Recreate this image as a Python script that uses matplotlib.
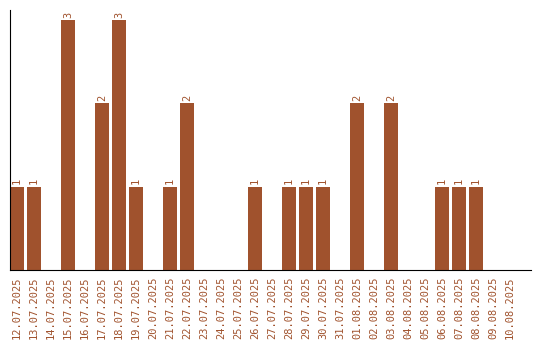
import matplotlib
matplotlib.use('Agg')
import matplotlib.pyplot as plt
import numpy as np

# dates and counts
dates = ['12.07.2025', '13.07.2025', '14.07.2025', '15.07.2025', '16.07.2025',
         '17.07.2025', '18.07.2025', '19.07.2025', '20.07.2025', '21.07.2025',
         '22.07.2025', '23.07.2025', '24.07.2025', '25.07.2025', '26.07.2025',
         '27.07.2025', '28.07.2025', '29.07.2025', '30.07.2025', '31.07.2025',
         '01.08.2025', '02.08.2025', '03.08.2025', '04.08.2025', '05.08.2025',
         '06.08.2025', '07.08.2025', '08.08.2025', '09.08.2025', '10.08.2025']
counts = [1, 1, 0, 3, 0, 2, 3, 1, 0, 1,
          2, 0, 0, 0, 1, 0, 1, 1, 1, 0,
          2, 0, 2, 0, 0, 1, 1, 1, 0, 0]

cor = '#A0522D'
plt.rcParams['font.family'] = 'DejaVu Sans Mono'

fig = plt.figure(figsize=(5.4, 3.4), dpi=100)
ax = fig.add_axes([10/540, 70/340, 521/540, 260/340])

x = np.arange(len(dates))
bars = ax.bar(x, counts, width=0.82, color=cor)

# rotulos em cima das barras (so onde tem valor)
for xi, c in zip(x, counts):
    if c > 0:
        ax.text(xi, c + 0.03, str(c), rotation=90, ha='center', va='bottom',
                fontsize=7.5, color=cor)

ax.set_xlim(-0.41, 30.24)
ax.set_ylim(0, 3.12)
ax.set_xticks(x)
ax.set_xticklabels(dates, rotation=90, fontsize=7.5, color=cor)
ax.tick_params(axis='x', length=0, pad=5)
ax.set_yticks([])
ax.spines['top'].set_visible(False)
ax.spines['right'].set_visible(False)
ax.spines['left'].set_linewidth(0.8)
ax.spines['bottom'].set_linewidth(0.8)

fig.savefig('out.png', dpi=100)
